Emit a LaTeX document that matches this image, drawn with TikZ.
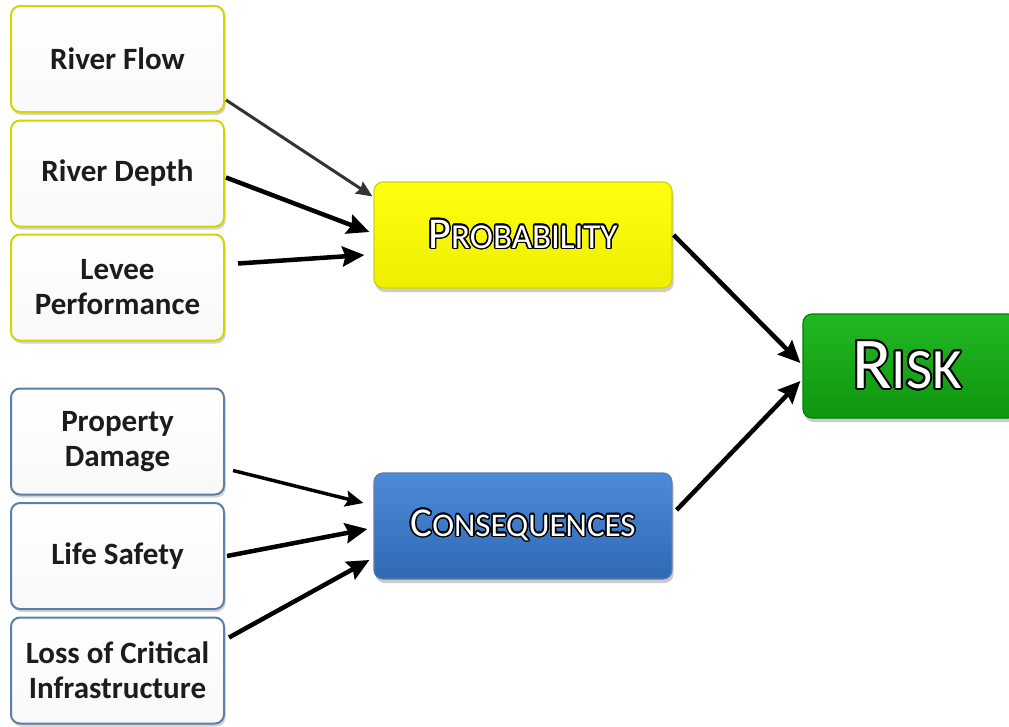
\documentclass[tikz,border=0pt]{standalone}
\usepackage{fontspec}
\setmainfont{Carlito}
\usepackage[copies]{contour}
\contourlength{1.5pt}
\usetikzlibrary{arrows.meta,shadows}
\definecolor{ybord}{HTML}{D4D400}
\definecolor{bbord}{HTML}{5B7FA8}
\definecolor{ytop}{HTML}{FFFF10}
\definecolor{ybot}{HTML}{EEEE00}
\definecolor{btop}{HTML}{4E8AD8}
\definecolor{bbot}{HTML}{2F69B4}
\definecolor{gtop}{HTML}{22B822}
\definecolor{gbot}{HTML}{0F960F}
\definecolor{txt}{HTML}{1C1C1C}
\tikzset{
  inbox/.style={draw, line width=2pt, rounded corners=9pt, minimum width=213pt, minimum height=106pt,
    top color=white, bottom color=gray!5, drop shadow={shadow xshift=1.5pt, shadow yshift=-3pt, opacity=0.35},
    font=\fontsize{31}{35}\selectfont\bfseries, text=txt, align=center, inner sep=0pt},
  yin/.style={inbox, draw=ybord},
  bin/.style={inbox, draw=bbord},
  mainbox/.style={draw, line width=1.2pt, rounded corners=9pt, minimum width=298pt, minimum height=106pt,
    drop shadow={shadow xshift=1.5pt, shadow yshift=-4pt, opacity=0.4}, inner sep=0pt, text=white},
  thick arrow/.style={line width=4.5pt, -{Stealth[length=22pt,width=20pt,inset=3pt]}},
  thin arrow/.style={line width=3pt, draw=black!80, -{Stealth[length=16pt,width=14pt,inset=2pt]}},
}
\begin{document}
\begin{tikzpicture}[x=1pt,y=-1pt]
\useasboundingbox (0,0) rectangle (1009,726);
\clip (0,0) rectangle (1009,726);
% input boxes
\node[yin] (rf) at (117.5,59) {River Flow};
\node[yin] (rd) at (117.5,173.5) {River Depth};
\node[yin] (lp) at (117.5,287.5) {Levee\\Performance};
\node[bin] (pd) at (117.5,441.5) {Property\\Damage};
\node[bin] (ls) at (117.5,556) {Life Safety};
\node[bin] (lc) at (117.5,670.5) {Loss of Critical\\Infrastructure};
% main boxes
\node[mainbox, draw=ybord, top color=ytop, bottom color=ybot] (prob) at (523,235)
  {\color{white}\contour{black}{\fontsize{44}{44}\selectfont P\fontsize{35}{35}\selectfont ROBABILITY}};
\node[mainbox, draw=bbord, top color=btop, bottom color=bbot] (cons) at (523,526)
  {\color{white}\contour{black}{\fontsize{41}{41}\selectfont C\fontsize{33}{33}\selectfont ONSEQUENCES}};
\node[mainbox, draw=green!50!black, top color=gtop, bottom color=gbot, minimum width=214pt, minimum height=104pt] (risk) at (910,366)
  {\hspace*{-6pt}\color{white}\contourlength{2pt}\contour{black}{\fontsize{73}{73}\selectfont R\fontsize{57}{57}\selectfont ISK}};
% connectors
\draw[thin arrow] ([xshift=1pt,yshift=-41pt]rf.east) -- ([xshift=-1pt,yshift=-15pt]prob.north west);
\draw[thick arrow] ([xshift=1pt,yshift=-4pt]rd.east) -- ([xshift=-4pt,yshift=3pt]prob.west);
\draw[thick arrow] ([xshift=13pt,yshift=24pt]lp.east) -- ([xshift=-9pt,yshift=-20pt]prob.west);
\draw[line width=3.5pt, -{Stealth[length=18pt,width=16pt,inset=3pt]}] ([xshift=8pt,yshift=-29pt]pd.east) -- ([xshift=-10pt,yshift=23pt]cons.west);
\draw[thick arrow] ([xshift=2pt]ls.east) -- ([xshift=-6pt,yshift=-3pt]cons.west);
\draw[thick arrow] ([xshift=4pt,yshift=33pt]lc.east) -- ([xshift=-4pt,yshift=-34pt]cons.west);
\draw[thick arrow] ([xshift=1pt]prob.east) -- ([xshift=-2pt,yshift=3pt]risk.west);
\draw[thick arrow] ([xshift=4pt,yshift=16pt]cons.east) -- ([xshift=-2pt,yshift=-15pt]risk.west);
\end{tikzpicture}
\end{document}
